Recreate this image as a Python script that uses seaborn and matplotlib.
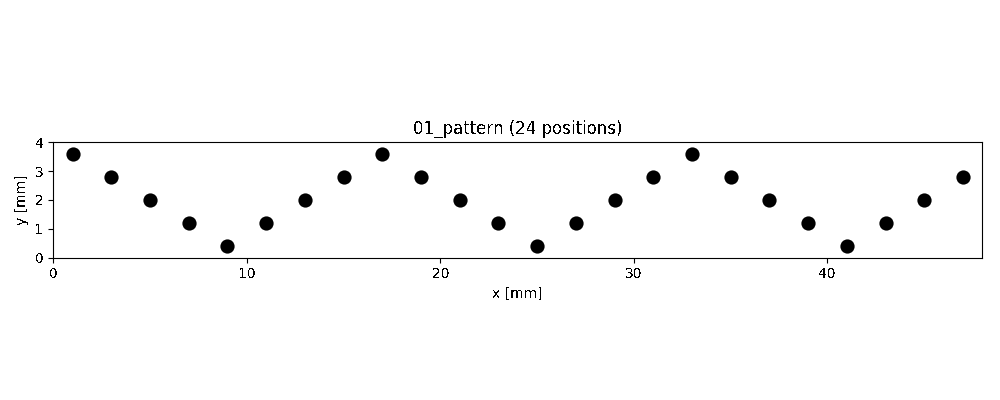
import matplotlib
matplotlib.use("Agg")
import matplotlib.pyplot as plt
import seaborn as sns
import pandas as pd

plt.rcParams["text.antialiased"] = False

x_mm = [1, 3, 5, 7, 9, 11, 13, 15, 17, 19, 21, 23, 25, 27, 29, 31, 33, 35, 37, 39, 41, 43, 45, 47]
y_mm = [3.6, 2.8, 2.0, 1.2, 0.4, 1.2, 2.0, 2.8, 3.6, 2.8, 2.0, 1.2, 0.4, 1.2, 2.0, 2.8,
        3.6, 2.8, 2.0, 1.2, 0.4, 1.2, 2.0, 2.8]
title = "01_pattern (24 positions)"

df = pd.DataFrame({"x": x_mm, "y": y_mm})

fig = plt.figure(figsize=(10, 4), dpi=100)
ax = fig.add_axes([0.0533, 0.3558, 0.929, 0.2885])
sns.scatterplot(data=df, x="x", y="y", ax=ax, color="black", s=105, edgecolor="black", linewidth=0)
ax.set_xlim(0, 48)
ax.set_ylim(0, 4)
ax.set_xticks([0, 10, 20, 30, 40])
ax.set_yticks([0, 1, 2, 3, 4])
ax.set_xlabel("x [mm]")
ax.set_ylabel("y [mm]")
ax.set_title(title)
fig.savefig("out.png", dpi=100)
